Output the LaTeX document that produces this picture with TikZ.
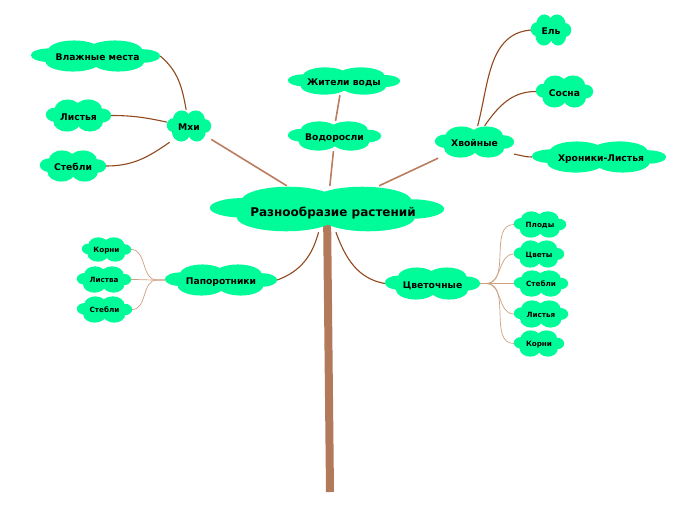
\documentclass[tikz,border=0pt]{standalone}
\usepackage{fontspec}
\setmainfont{DejaVu Sans}
\usetikzlibrary{calc}

\definecolor{cloudgreen}{RGB}{0,252,152}
\definecolor{darkbark}{RGB}{145,72,28}
\definecolor{midbark}{RGB}{185,125,95}
\definecolor{lightbark}{RGB}{205,160,128}
\definecolor{trunkbark}{RGB}{178,122,90}

\pgfdeclarelayer{lines}
\pgfdeclarelayer{clouds}
\pgfsetlayers{lines,clouds,main}

\tikzset{
  leaf/.style={rectangle, inner sep=0pt, text height=12pt, text depth=2.5pt,
    font=\bfseries\fontsize{9.2}{10}\selectfont},
  bigleaf/.style={leaf, text height=18pt, text depth=3pt,
    font=\bfseries\fontsize{12}{13}\selectfont},
  tinyleaf/.style={leaf, text height=8.5pt, text depth=2pt,
    font=\bfseries\fontsize{7.2}{8}\selectfont},
  branch/.style={darkbark, line width=1.1pt},
  twig/.style={lightbark, line width=0.7pt},
  limb/.style={midbark, line width=1.6pt}
}

\begin{document}
\begin{tikzpicture}[x=1pt,y=-1pt]
	\useasboundingbox (0,0) rectangle (696,520);

	% центр
	\node[bigleaf, minimum width=234pt, minimum height=46pt] (root) at (327,209) {\hspace{12pt}Разнообразие растений};

	% первый уровень
	\node[leaf, minimum width=44pt, minimum height=32pt] (mhi) at (189,126) {Мхи};
	\node[leaf, minimum width=93pt, minimum height=30pt] (vodor) at (334.5,136) {Водоросли};
	\node[leaf, minimum width=112pt, minimum height=28pt] (zhiteli) at (344,81) {Жители воды};
	\node[leaf, minimum width=79pt, minimum height=32pt] (hvoin) at (474.5,142) {Хвойные};
	\node[leaf, minimum width=112pt, minimum height=32pt] (paporot) at (221,280) {Папоротники};
	\node[leaf, minimum width=95pt, minimum height=33pt] (cvetoch) at (432.5,283.5) {Цветочные};

	% мхи
	\node[leaf, minimum width=129pt, minimum height=32pt] (vlazh) at (95.5,56) {\hspace{4pt}Влажные места};
	\node[leaf, minimum width=65pt, minimum height=33pt] (listya) at (78.5,115.5) {Листья};
	\node[leaf, minimum width=66pt, minimum height=32pt] (stebli) at (73,166) {Стебли};

	% хвойные
	\node[leaf, minimum width=40pt, minimum height=32pt] (el) at (551,30) {Ель};
	\node[leaf, minimum width=57pt, minimum height=33pt] (sosna) at (564.5,91.5) {Сосна};
	\node[leaf, minimum width=134pt, minimum height=32pt] (hroniki) at (599,157) {\hspace{4pt}Хроники-Листья};

	% папоротники
	\node[tinyleaf, minimum width=49pt, minimum height=25pt] (pkorni) at (106.5,249.5) {Корни};
	\node[tinyleaf, minimum width=54pt, minimum height=27pt] (plistva) at (104,279.5) {Листва};
	\node[tinyleaf, minimum width=55pt, minimum height=27pt] (pstebli) at (104.5,309.5) {Стебли};

	% цветочные
	\node[tinyleaf, minimum width=52pt, minimum height=27pt] (plody) at (540,224.5) {Плоды};
	\node[tinyleaf, minimum width=50pt, minimum height=28pt] (cvety) at (539,254) {Цветы};
	\node[tinyleaf, minimum width=54pt, minimum height=27pt] (cstebli) at (541,283.5) {Стебли};
	\node[tinyleaf, minimum width=54pt, minimum height=28pt] (clistya) at (541,314) {Листья};
	\node[tinyleaf, minimum width=50pt, minimum height=27pt] (ckorni) at (539,343.5) {Корни};

	% облака под текстом
	\begin{pgfonlayer}{clouds}
	\foreach \c in {root,mhi,vodor,zhiteli,hvoin,paporot,cvetoch,vlazh,listya,stebli,
		el,sosna,hroniki,pkorni,plistva,pstebli,plody,cvety,cstebli,clistya,ckorni}
		\fill[cloudgreen] let \p1=($(\c.north east)-(\c.center)$) in
			(\c.center) ellipse [x radius=0.85*\x1, y radius=0.55*\y1]
			($(\c.center)+(-0.33*\x1,0.36*\y1)$) ellipse [x radius=0.4*\x1, y radius=0.6*\y1]
			($(\c.center)+(0.3*\x1,0.36*\y1)$) ellipse [x radius=0.42*\x1, y radius=0.6*\y1]
			($(\c.center)+(-0.35*\x1,-0.36*\y1)$) ellipse [x radius=0.42*\x1, y radius=0.6*\y1]
			($(\c.center)+(0.35*\x1,-0.36*\y1)$) ellipse [x radius=0.4*\x1, y radius=0.6*\y1]
			($(\c.center)+(-0.72*\x1,0.05*\y1)$) ellipse [x radius=0.28*\x1, y radius=0.42*\y1]
			($(\c.center)+(0.72*\x1,0)$) ellipse [x radius=0.28*\x1, y radius=0.42*\y1];
	\end{pgfonlayer}

	\begin{pgfonlayer}{lines}
	% ствол
	\coordinate (base) at (330,492);
	\draw[trunkbark, line width=8pt] (root.center) -- (base);

	% ветви от центра
	\draw[limb] (root.150) -- (mhi.-31);
	\draw[limb] (root.83) -- (vodor.-94);
	\draw[limb] (root.24) -- (hvoin.204);
	\draw[limb] (vodor.86) -- (zhiteli.-106);
	\draw[branch] (root.-110) to[out=-105, in=20] (paporot.east);
	\draw[branch] (root.-69) to[out=-70, in=170] (cvetoch.west);

	% ветви мхов
	\draw[branch] (mhi.100) to[out=100, in=-40] (vlazh.east);
	\draw[branch] (mhi.170) to[out=168, in=0] (listya.east);
	\draw[branch] (mhi.-140) to[out=-145, in=0] (stebli.east);

	% ветви хвойных
	\draw[branch] (hvoin.79) to[out=75, in=185] (el.west);
	\draw[branch] (hvoin.58) to[out=55, in=180] (sosna.west);
	\draw[branch] (hvoin.-17) to[out=-10, in=180] (hroniki.west);

	% мелкие ветки
	\foreach \c in {pkorni,plistva,pstebli}
		\draw[twig] (paporot.west) -- ++(-8,0) to[out=180, in=0] (\c.east);
	\foreach \c in {plody,cvety,cstebli,clistya,ckorni}
		\draw[twig] (cvetoch.east) -- ++(6,0) to[out=0, in=180] (\c.west);
	\end{pgfonlayer}
\end{tikzpicture}
\end{document}
